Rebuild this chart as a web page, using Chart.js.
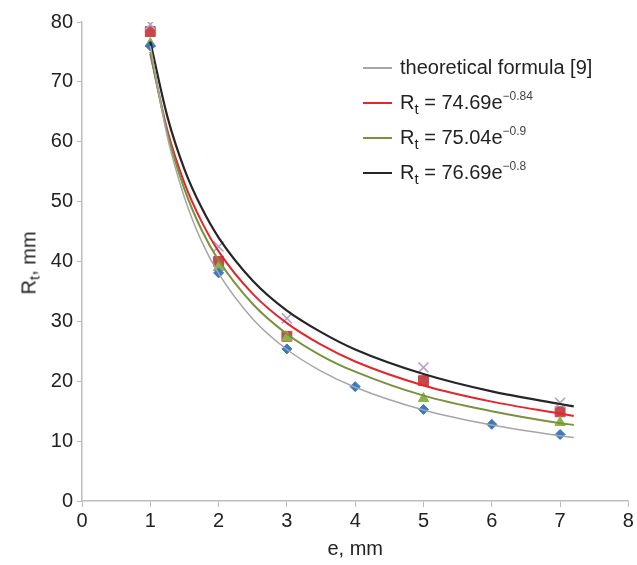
<!DOCTYPE html>
<html>
<head>
<meta charset="utf-8">
<script src="https://cdn.jsdelivr.net/npm/chart.js@4"></script>
<style>
  body { margin: 0; background: #fff; font-family: "Liberation Sans", Arial, sans-serif; }
  #wrap { position: relative; width: 637px; height: 565px; }
  #ytitle {
    position: absolute; left: 29px; top: 263px; font-size: 20px; color: #222;
    transform: translate(-50%, -50%) rotate(-90deg); white-space: nowrap;
  }
  #ytitle sub { font-size: 15px; vertical-align: -4px; line-height: 0; }
  #legend { position: absolute; left: 363px; top: 50px; font-size: 20px; color: #222; }
  .row { height: 35px; display: flex; align-items: center; white-space: nowrap; }
  .swatch { width: 29px; height: 2px; margin-right: 8px; }
  .row sub { font-size: 15px; vertical-align: -5px; line-height: 0; }
  .row sup { font-size: 12px; vertical-align: 9px; line-height: 0; color: #444; }
</style>
</head>
<body>
<div id="wrap">
  <canvas id="rtChart" width="637" height="565"></canvas>
  <div id="ytitle">R<sub>t</sub>, mm</div>
  <div id="legend">
    <div class="row"><span class="swatch" style="background:#a6a6a6"></span><span>theoretical formula [9]</span></div>
    <div class="row"><span class="swatch" style="background:#e3262b"></span><span>R<sub>t</sub> = 74.69e<sup>−0.84</sup></span></div>
    <div class="row"><span class="swatch" style="background:#77933c"></span><span>R<sub>t</sub> = 75.04e<sup>−0.9</sup></span></div>
    <div class="row"><span class="swatch" style="background:#262626"></span><span>R<sub>t</sub> = 76.69e<sup>−0.8</sup></span></div>
  </div>
</div>
<script>
// measured points
const eAll = [1, 2, 3, 4, 5, 6, 7];
const theoryPts = [76, 38.1, 25.4, 19.1, 15.3, 12.8, 11.1];
const eSome = [1, 2, 3, 5, 7];
const redPts = [78.4, 40.0, 27.5, 20.1, 14.9];
const greenPts = [76.4, 39.0, 27.3, 17.1, 13.1];
const crossPts = [79.6, 42.5, 30.5, 22.3, 16.4];

// curves read along e
const curveE = [1, 1.25, 1.5, 1.75, 2, 2.5, 3, 3.5, 4, 5, 6, 7, 7.2];
const curveTheory = [76, 60.8, 50.7, 43.4, 38, 30.4, 25.3, 21.7, 19, 15.2, 12.7, 10.9, 10.6];
const curveRed = [74.69, 61.9, 53.1, 46.7, 41.7, 34.6, 29.7, 26.1, 23.3, 19.3, 16.6, 14.6, 14.2];
const curveGreen = [75.04, 61.4, 52.1, 45.3, 40.2, 32.9, 27.9, 24.3, 21.6, 17.6, 15.0, 13.0, 12.7];
const curveBlack = [76.69, 64.2, 55.4, 49.0, 44.0, 36.8, 31.8, 28.2, 25.3, 21.2, 18.3, 16.2, 15.8];

const xTicks = [0, 1, 2, 3, 4, 5, 6, 7, 8];
const yTicks = [0, 10, 20, 30, 40, 50, 60, 70, 80];

const pts = (xs, ys) => xs.map((x, i) => ({ x: x, y: ys[i] }));

function curve(data, color, width) {
    return {
        data: pts(curveE, data), showLine: true, borderColor: color, borderWidth: width,
        pointRadius: 0, cubicInterpolationMode: 'monotone', order: 0
    };
}

function markers(xs, ys, style, radius, color, borderWidth) {
    return {
        data: pts(xs, ys), showLine: false, pointStyle: style, pointRadius: radius,
        backgroundColor: color, borderColor: color, pointBorderWidth: borderWidth || 1, order: 1
    };
}

const tickFont = { family: '"Liberation Sans", Arial, sans-serif', size: 20 };

new Chart(document.getElementById('rtChart'), {
    type: 'scatter',
    data: {
        datasets: [
            curve(curveTheory, '#a6a6a6', 1.5),
            curve(curveGreen, '#77933c', 2),
            curve(curveRed, '#e3262b', 2),
            curve(curveBlack, '#262626', 2.2),
            markers(eSome, crossPts, 'crossRot', 7, '#b3a2c7', 1.6),
            markers(eAll, theoryPts, 'rectRot', 5, '#3b78c4'),
            markers(eSome, greenPts, 'triangle', 6, '#8db44a'),
            markers(eSome, redPts, 'rect', 7, '#c9474a')
        ]
    },
    options: {
        responsive: false,
        animation: false,
        layout: { padding: { left: 0, right: 8, top: 22, bottom: 0 } },
        plugins: { legend: { display: false }, tooltip: { enabled: false } },
        scales: {
            x: {
                type: 'linear', min: 0, max: 8,
                afterBuildTicks: s => { s.ticks = xTicks.map(v => ({ value: v })); },
                afterFit: s => { s.height = 64; },
                grid: { drawOnChartArea: false, color: '#bdbdbd', tickLength: 6 },
                border: { color: '#bdbdbd', width: 1.5 },
                ticks: { color: '#222', font: tickFont, padding: 2, maxRotation: 0 },
                title: { display: true, text: 'e, mm', color: '#222', font: tickFont, padding: { top: 0 } }
            },
            y: {
                type: 'linear', min: 0, max: 80,
                afterBuildTicks: s => { s.ticks = yTicks.map(v => ({ value: v })); },
                afterFit: s => { s.width = 82; },
                grid: { drawOnChartArea: false, color: '#bdbdbd', tickLength: 5 },
                border: { color: '#bdbdbd', width: 1.5 },
                ticks: { color: '#222', font: tickFont, padding: 4 }
            }
        }
    }
});
</script>
</body>
</html>
